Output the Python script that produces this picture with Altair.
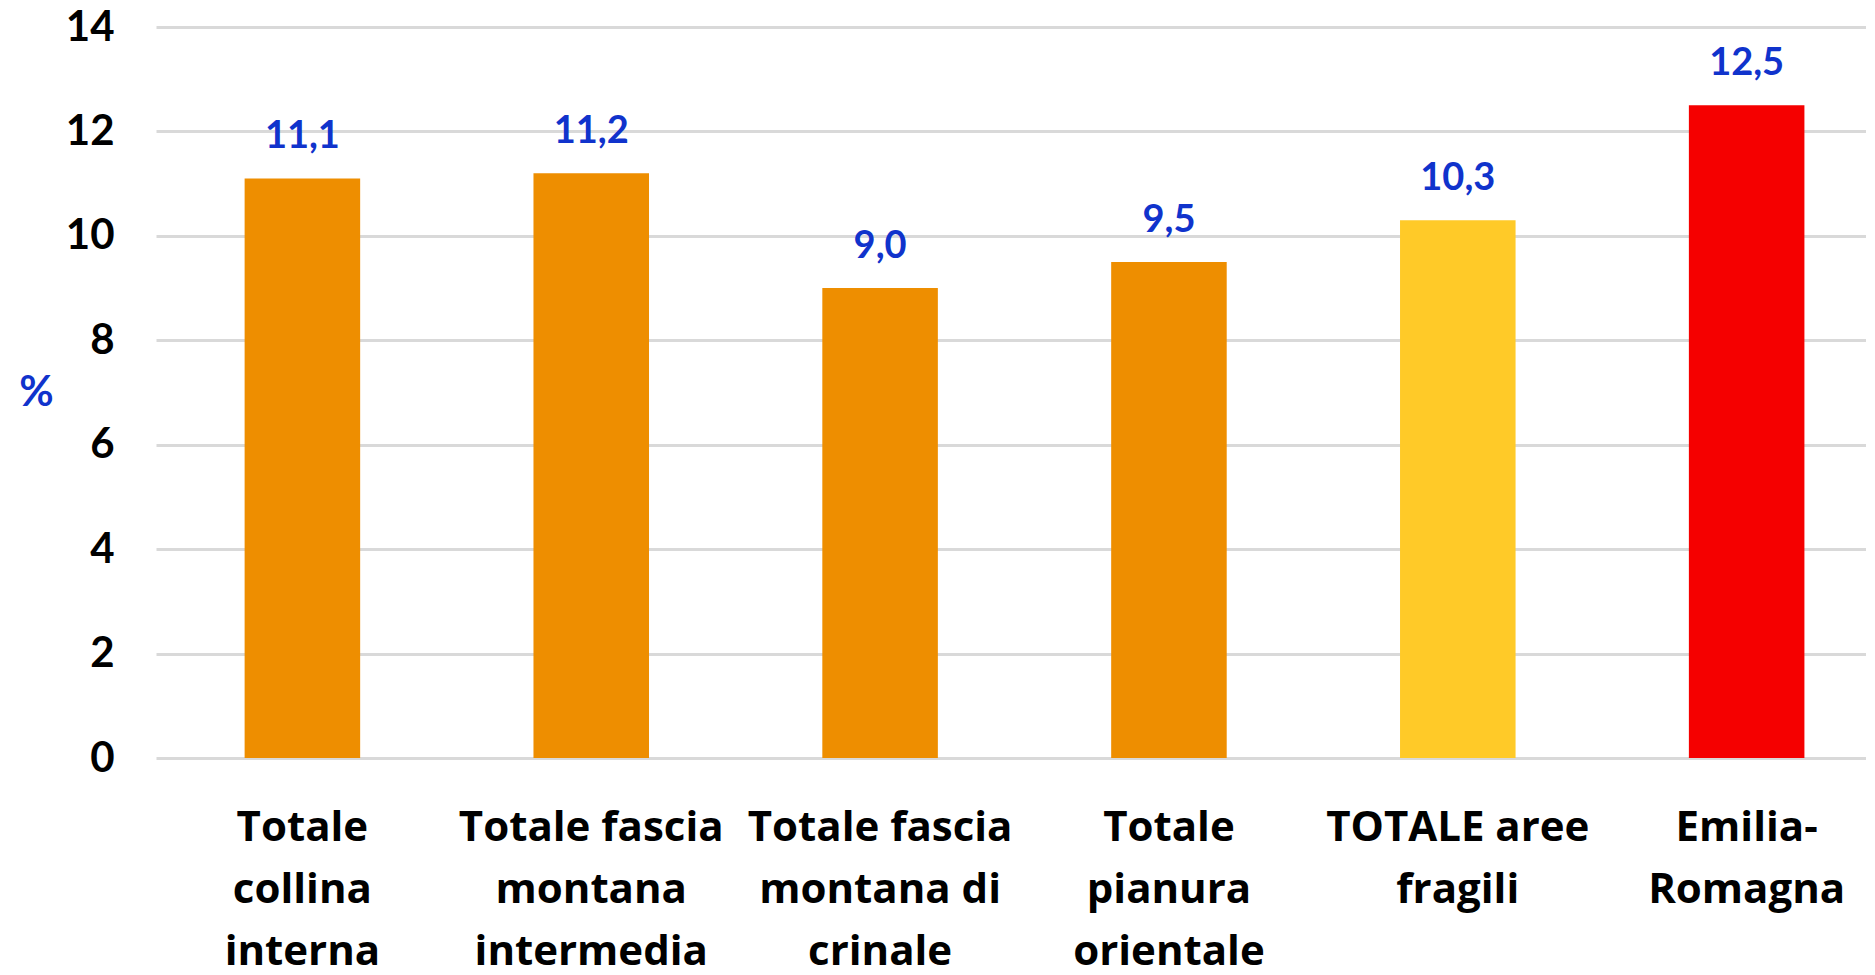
import altair as alt
import pandas as pd

categories = [
    "Totale|collina|interna",
    "Totale fascia|montana|intermedia",
    "Totale fascia|montana di|crinale",
    "Totale|pianura|orientale",
    "TOTALE aree|fragili",
    "Emilia-|Romagna",
]
values = [11.1, 11.2, 9.0, 9.5, 10.3, 12.5]
labels = ["11,1", "11,2", "9,0", "9,5", "10,3", "12,5"]
colors = ["#EE8E00", "#EE8E00", "#EE8E00", "#EE8E00", "#FFCA28", "#F50000"]
y_ticks = [0, 2, 4, 6, 8, 10, 12, 14]

df = pd.DataFrame({"cat": categories, "val": values, "lab": labels, "col": colors})

FONT = "Lato"
XFONT = "Open Sans"

x = alt.X(
    "cat:N",
    sort=categories,
    scale=alt.Scale(paddingInner=0.6, paddingOuter=0.26, align=0.59),
    axis=alt.Axis(
        title=None,
        labelAngle=0,
        labelExpr="split(datum.label, '|')",
        labelFont=XFONT,
        labelFontSize=42,
        labelFontWeight="bold",
        labelColor="#000000",
        labelLineHeight=62,
        labelPadding=49,
        labelLimit=0,
        ticks=False,
        domain=False,
        grid=False,
    ),
)
y = alt.Y(
    "val:Q",
    scale=alt.Scale(domain=[0, 14], nice=False),
    axis=alt.Axis(
        title="%",
        titleAngle=0,
        titleFont=FONT,
        titleFontSize=42,
        titleFontWeight="bold",
        titleColor="#1033CC",
        titleX=-120,
        titleY=365,
        titleAlign="center",
        titleBaseline="middle",
        values=y_ticks,
        labelFont=FONT,
        labelFontSize=42,
        labelFontWeight="bold",
        labelColor="#000000",
        labelPadding=42,
        ticks=False,
        domain=False,
        gridColor="#D9D9D9",
        gridWidth=3,
    ),
)

bars = alt.Chart(df).mark_bar().encode(
    x=x, y=y, color=alt.Color("col:N", scale=None)
)
text = alt.Chart(df).mark_text(
    font=FONT, fontSize=38, fontWeight="bold", color="#1033CC",
    baseline="middle", dy=-41,
).encode(x=alt.X("cat:N", sort=categories), y="val:Q", text="lab:N")

chart = (
    alt.layer(bars, text)
    .properties(
        width=1710,
        height=731,
        autosize=alt.AutoSizeParams(type="none"),
        padding={"left": 148, "top": 19, "right": 0, "bottom": 209},
    )
    .configure_view(stroke=None)
)

chart.save("out.html", embed_options={"renderer": "svg", "actions": False})
